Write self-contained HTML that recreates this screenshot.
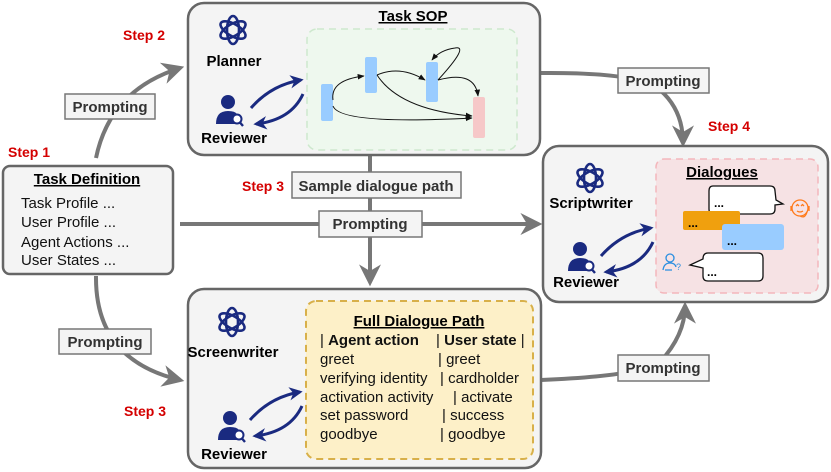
<!DOCTYPE html>
<html><head><meta charset="utf-8"><style>
html,body{margin:0;padding:0;background:#fff}
svg{display:block}
text{font-family:"Liberation Sans",sans-serif}
.b{font-weight:bold}
.st{fill:#d40000;font-weight:bold;font-size:14px}
.pr{font-weight:bold;font-size:15px;fill:#333}
.pb{fill:#f4f4f4;stroke:#777;stroke-width:1.5}
.ln{fill:none;stroke:#777;stroke-width:4}
</style></head><body>
<svg width="831" height="472" viewBox="0 0 831 472" xmlns="http://www.w3.org/2000/svg">
<defs>
<marker id="ah" viewBox="0 0 10 10" refX="8" refY="5" markerWidth="5.5" markerHeight="5.5" orient="auto"><path d="M0,0 L10,5 L0,10 L3,5 z" fill="#777"/></marker>
<marker id="sa" viewBox="0 0 10 10" refX="9" refY="5" markerWidth="7" markerHeight="7" orient="auto"><path d="M0,1 L10,5 L0,9 z" fill="#111"/></marker>
<marker id="na" viewBox="0 0 10 10" refX="8" refY="5" markerWidth="4.5" markerHeight="4.5" orient="auto"><path d="M0,0 L10,5 L0,10 L3,5 z" fill="#1a2a80"/></marker>
<g id="logo" fill="none" stroke="#1a2a80" stroke-width="2.6">
<ellipse cx="0" cy="0" rx="6" ry="14" transform="rotate(0)"/>
<ellipse cx="0" cy="0" rx="6" ry="14" transform="rotate(60)"/>
<ellipse cx="0" cy="0" rx="6" ry="14" transform="rotate(120)"/>
</g>
<g id="rev">
<circle cx="0" cy="-7" r="7" fill="#1a2a80"/>
<path d="M-12,15 Q-12,2 0,2 Q7,2 9,5 L9,15 z" fill="#1a2a80"/>
<circle cx="9" cy="10" r="4.5" fill="#fff" stroke="#1a2a80" stroke-width="2"/>
<line x1="12" y1="13.5" x2="15" y2="17" stroke="#1a2a80" stroke-width="2.4"/>
</g>
<g id="swap" fill="none" stroke="#1a2a80" stroke-width="3">
<path d="M0,28 Q20,5 50,0" marker-end="url(#na)"/>
<path d="M52,14 Q40,40 5,44" marker-end="url(#na)"/>
</g>
</defs>

<path class="ln" d="M96,158 Q110,90 180,68" marker-end="url(#ah)"/>
<path class="ln" d="M96,276 Q95,360 180,380" marker-end="url(#ah)"/>
<line class="ln" x1="370" y1="155" x2="370" y2="282" marker-end="url(#ah)"/>
<line class="ln" x1="180" y1="224" x2="538" y2="224" marker-end="url(#ah)"/>
<path class="ln" d="M540,73 Q640,72 660,90 Q683,110 683,143" marker-end="url(#ah)"/>
<path class="ln" d="M541,380 Q640,376 660,362 Q685,335 685,306" marker-end="url(#ah)"/>

<rect class="pb" x="65" y="94" width="90" height="25"/><text class="pr" x="110" y="112" text-anchor="middle">Prompting</text>
<rect class="pb" x="59" y="329" width="92" height="25"/><text class="pr" x="105" y="347" text-anchor="middle">Prompting</text>
<rect class="pb" x="319" y="211" width="103" height="26"/><text class="pr" x="370" y="229" text-anchor="middle">Prompting</text>
<rect class="pb" x="618" y="68" width="91" height="25"/><text class="pr" x="663" y="86" text-anchor="middle">Prompting</text>
<rect class="pb" x="618" y="355" width="91" height="26"/><text class="pr" x="663" y="373" text-anchor="middle">Prompting</text>
<rect class="pb" x="292" y="172" width="169" height="26"/><text x="376" y="191" text-anchor="middle" font-size="15" fill="#333" class="b">Sample dialogue path</text>

<text class="st" x="8" y="157">Step 1</text>
<text class="st" x="123" y="40">Step 2</text>
<text class="st" x="242" y="191">Step 3</text>
<text class="st" x="124" y="416">Step 3</text>
<text class="st" x="708" y="131">Step 4</text>

<rect x="3" y="166" width="170" height="108" rx="7" fill="#f4f4f4" stroke="#666" stroke-width="2.5"/>
<text x="87" y="184" text-anchor="middle" font-size="15" class="b" text-decoration="underline">Task Definition</text>
<g font-size="15" fill="#111">
<text x="21" y="208">Task Profile ...</text>
<text x="21" y="227">User Profile ...</text>
<text x="21" y="247">Agent Actions  ...</text>
<text x="21" y="265">User States  ...</text>
</g>

<rect x="188" y="3" width="352" height="152" rx="16" fill="#f4f4f4" stroke="#666" stroke-width="2.5"/>
<text x="413" y="21" text-anchor="middle" font-size="15" class="b" text-decoration="underline">Task SOP</text>
<rect x="307" y="29" width="210" height="121" rx="10" fill="#eef8ee" stroke="#cde8cd" stroke-width="1.5" stroke-dasharray="7,5"/>
<rect x="321" y="84" width="12" height="37" rx="2" fill="#99ccff"/>
<rect x="365" y="57" width="12" height="36" rx="2" fill="#99ccff"/>
<rect x="426" y="62" width="12" height="40" rx="2" fill="#99ccff"/>
<rect x="473" y="97" width="12" height="41" rx="2" fill="#f6c8c8"/>
<g fill="none" stroke="#111" stroke-width="1">
<path d="M333,100 Q330,80 364,76" marker-end="url(#sa)"/>
<path d="M333,106 Q340,125 472,118" marker-end="url(#sa)"/>
<path d="M377,75 Q400,65 425,80" marker-end="url(#sa)"/>
<path d="M377,75 Q400,110 472,116" marker-end="url(#sa)"/>
<path d="M438,80 Q475,70 478,96" marker-end="url(#sa)"/>
<path d="M438,80 Q470,45 455,48 Q440,50 432,60" marker-end="url(#sa)"/>
</g>
<use href="#logo" x="233" y="30"/>
<text x="234" y="66" text-anchor="middle" font-size="15" class="b">Planner</text>
<use href="#rev" x="228" y="109"/>
<text x="234" y="143" text-anchor="middle" font-size="15" class="b">Reviewer</text>
<use href="#swap" x="251" y="80"/>

<rect x="543" y="146" width="285" height="156" rx="16" fill="#f4f4f4" stroke="#666" stroke-width="2.5"/>
<rect x="656" y="159" width="162" height="134" rx="8" fill="#f6e2e4" stroke="#f3b6bb" stroke-width="1.5" stroke-dasharray="7,5"/>
<text x="722" y="177" text-anchor="middle" font-size="15" class="b" text-decoration="underline">Dialogues</text>
<path d="M713,186 L770,186 Q775,186 775,191 L776,200 L783,204 L775,205 L775,209 Q775,214 770,214 L713,214 Q709,214 709,209 L709,191 Q709,186 713,186 z" fill="#fff" stroke="#111" stroke-width="1.3"/>
<text x="714" y="207" font-size="12" class="b">...</text>
<rect x="683" y="211" width="57" height="19" rx="2" fill="#f0a00e"/>
<text x="688" y="227" font-size="12" class="b">...</text>
<rect x="722" y="224" width="62" height="26" rx="3" fill="#99ccff"/>
<text x="727" y="245" font-size="12" class="b">...</text>
<path d="M708,253 L758,253 Q763,253 763,258 L763,276 Q763,281 758,281 L708,281 Q703,281 703,276 L703,268 L690,265 L703,259 Q703,253 708,253 z" fill="#fff" stroke="#111" stroke-width="1.3"/>
<text x="707" y="276" font-size="12" class="b">...</text>
<g fill="none" stroke="#ff7a1a" stroke-width="1.3">
<circle cx="800" cy="208" r="8"/><path d="M791,206 v5 M809,206 v5 M800,216 q5,3 7,-4"/>
<path d="M796,206 l1.5,-1.5 l1.5,1.5 M801,206 l1.5,-1.5 l1.5,1.5 M797,211 q3,2 6,0"/>
</g>
<g fill="none" stroke="#2a8ee0" stroke-width="1.3">
<circle cx="670" cy="258" r="4"/><path d="M663,270 q1,-7 7,-7 q5,0 6,4 M665,270 h7"/>
<text x="676" y="270" font-size="9" fill="#2a8ee0" stroke="none">?</text>
</g>
<use href="#logo" x="590" y="178"/>
<text x="591" y="208" text-anchor="middle" font-size="15" class="b">Scriptwriter</text>
<use href="#rev" x="580" y="256"/>
<text x="586" y="287" text-anchor="middle" font-size="15" class="b">Reviewer</text>
<use href="#swap" x="601" y="228"/>

<rect x="188" y="289" width="353" height="179" rx="16" fill="#f4f4f4" stroke="#666" stroke-width="2.5"/>
<rect x="306" y="301" width="227" height="158" rx="10" fill="#fdf0c8" stroke="#d8b04a" stroke-width="2" stroke-dasharray="7,5"/>
<text x="419" y="326" text-anchor="middle" font-size="15" class="b" text-decoration="underline">Full Dialogue Path</text>
<g font-size="15" fill="#111">
<text x="320" y="345">| <tspan class="b">Agent action</tspan></text>
<text x="436" y="345">| <tspan class="b">User state</tspan> |</text>
<text x="320" y="364">greet</text><text x="438" y="364">| greet</text>
<text x="320" y="383">verifying identity</text><text x="440" y="383">| cardholder</text>
<text x="320" y="402">activation activity</text><text x="453" y="402">| activate</text>
<text x="320" y="420">set password</text><text x="442" y="420">| success</text>
<text x="320" y="439">goodbye</text><text x="440" y="439">| goodbye</text>
</g>
<use href="#logo" x="232" y="322"/>
<text x="233" y="357" text-anchor="middle" font-size="15" class="b">Screenwriter</text>
<use href="#rev" x="230" y="425"/>
<text x="234" y="459" text-anchor="middle" font-size="15" class="b">Reviewer</text>
<use href="#swap" x="250" y="392"/>
</svg>
</body></html>
